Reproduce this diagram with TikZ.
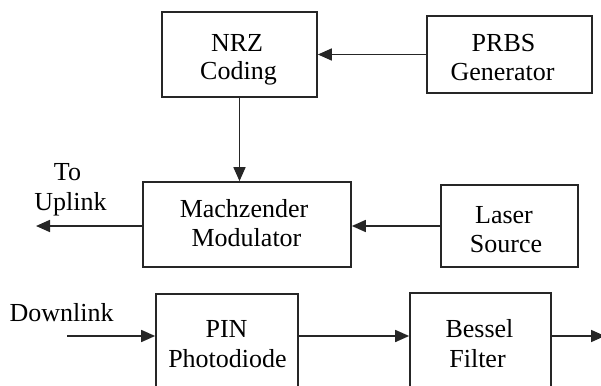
\documentclass[tikz,border=0pt]{standalone}
\usepackage{fontspec}
\setmainfont{Liberation Serif}
\usetikzlibrary{arrows.meta}
\begin{document}
\begin{tikzpicture}[x=1pt,y=-1pt,
  box/.style={draw=black!85,line width=1.7pt,inner sep=0pt},
  lbl/.style={anchor=base,inner sep=0pt,font=\fontsize{26}{30}\selectfont},
  conn/.style={draw=black!85,line width=1.7pt,-{Triangle[length=14pt,width=12pt]}}]
\useasboundingbox (0,0) rectangle (601,385);
\clip (0,0) rectangle (601,385);
% boxes
\node[box,minimum width=155pt,minimum height=85pt] (nrz) at (239.5,54.5) {};
\node[box,minimum width=165pt,minimum height=77pt] (prbs) at (509.5,54.5) {};
\node[box,minimum width=208pt,minimum height=85pt] (mz) at (247,224.5) {};
\node[box,minimum width=137pt,minimum height=82pt] (las) at (509.5,226) {};
\node[box,minimum width=142pt,minimum height=100pt] (pin) at (227,344) {};
\node[box,minimum width=141pt,minimum height=102pt] (bes) at (480.5,344) {};
% texts
\node[lbl] (nrza) at (237,52) {NRZ};
\node[lbl] (nrzb) at (238.5,80) {Coding};
\node[lbl] (prbsa) at (503.5,52) {PRBS};
\node[lbl] (prbsb) at (502.5,81) {Generator};
\node[lbl] (mza) at (244,217) {Machzender};
\node[lbl] (mzb) at (246.5,246) {Modulator};
\node[lbl] (lasa) at (504,223) {Laser};
\node[lbl] (lasb) at (506,252) {Source};
\node[lbl] (pina) at (226.5,337) {PIN};
\node[lbl] (pinb) at (227.5,367) {Photodiode};
\node[lbl] (besa) at (479.5,337) {Bessel};
\node[lbl] (besb) at (477.5,367) {Filter};
\node[lbl] (upa) at (67.5,180) {To};
\node[lbl] (upb) at (70.5,210) {Uplink};
\node[lbl] (dl) at (61.5,321) {Downlink};
% connectors
\coordinate (upend) at (36,226);
\coordinate (dlstart) at (67,336);
\coordinate (outend) at (605,336);
\draw[conn] (prbs.west) -- (nrz.east);
\draw[conn] (nrz.south) -- (nrz.south |- mz.north);
\draw[conn] (las.west) -- (las.west -| mz.east);
\draw[conn] (mz.west |- upend) -- (upend);
\draw[conn] (dlstart) -- (dlstart -| pin.west);
\draw[conn] ([yshift=8pt]pin.east) -- ([yshift=8pt]bes.west);
\draw[conn] ([yshift=8pt]bes.east) -- (outend);
\end{tikzpicture}
\end{document}
